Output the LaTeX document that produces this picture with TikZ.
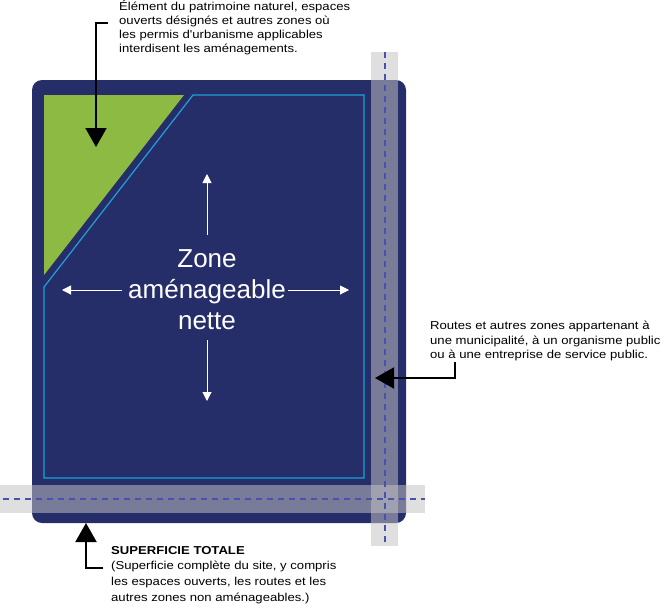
\documentclass[tikz,border=0pt]{standalone}
\usepackage{fontspec}
\setmainfont{Liberation Sans}
\newfontfamily\notefont[FakeStretch=1.14]{Liberation Sans}
\usetikzlibrary{arrows.meta}
\definecolor{navy}{HTML}{262E69}
\definecolor{leaf}{HTML}{8DBA43}
\definecolor{cyanline}{HTML}{1DA1D8}
\definecolor{bandgray}{HTML}{C2C2C2}
\definecolor{dashblue}{HTML}{4A50B0}
\tikzset{
  leader/.style={line width=2pt,-{Triangle[width=21pt,length=19pt]}},
  whitearrow/.style={white,line width=1pt,-{Triangle[width=9pt,length=9pt]}},
  band/.style={fill=bandgray,fill opacity=0.53,draw=none},
  roadline/.style={dashblue,line width=1.3pt,dash pattern=on 6pt off 5pt},
  note/.style={anchor=north west,align=left,inner sep=0pt,font=\notefont\fontsize{11.5}{14.2}\selectfont},
}
\begin{document}
\begin{tikzpicture}[x=1pt,y=-1pt]
\useasboundingbox (0,0) rectangle (667,611);
% site
\fill[navy,rounded corners=10pt] (32,80) rectangle (406,523);
\fill[leaf] (44,95) -- (184,95) -- (44,275) -- cycle;
\draw[cyanline,line width=1.2pt] (193,95) -- (364,95) -- (364,478) -- (44,478) -- (44,287) -- cycle;
% centre label and arrows
\node[white,align=center,inner sep=0pt,font=\fontsize{26}{31}\selectfont] (zone) at (207,290) {Zone\\am\'enageable\\nette};
\coordinate (up) at (207,174);
\coordinate (down) at (207,401);
\coordinate (left) at (62,290);
\coordinate (right) at (349,290);
\draw[whitearrow] (207,235) -- (up);
\draw[whitearrow] (207,340) -- (down);
\draw[whitearrow] (122,290) -- (left);
\draw[whitearrow] (288,290) -- (right);
% road bands
\fill[band] (371,52) rectangle (398,546);
\fill[band] (0,485) rectangle (425,513);
\draw[roadline] (385,52) -- (385,546);
\draw[roadline] (3,499) -- (425,499);
% callout 1
\node[note] (t1) at (119,0) {\'El\'ement du patrimoine naturel, espaces\\ouverts d\'esign\'es et autres zones o\`u\\les permis d'urbanisme applicables\\interdisent les am\'enagements.};
\coordinate (c1a) at (108,23);
\coordinate (c1b) at (96,23);
\coordinate (c1tip) at (96,147);
\draw[leader] (c1a) -- (c1b) -- (c1tip);
% callout 2
\node[note,font=\notefont\fontsize{11.5}{14.6}\selectfont] (t2) at (430,321) {Routes et autres zones appartenant \`a\\une municipalit\'e, \`a un organisme public\\ou \`a une entreprise de service public.};
\coordinate (c2a) at (455,362);
\coordinate (c2b) at (455,378);
\coordinate (c2tip) at (375,378);
\draw[leader] (c2a) -- (c2b) -- (c2tip);
% callout 3
\node[note,font=\notefont\fontsize{11.5}{15.6}\selectfont] (t3) at (111,546) {\textbf{SUPERFICIE TOTALE}\\(Superficie compl\`ete du site, y compris\\les espaces ouverts, les routes et les\\autres zones non am\'enageables.)};
\coordinate (c3a) at (103,568);
\coordinate (c3b) at (86,568);
\coordinate (c3tip) at (86,523);
\draw[leader] (c3a) -- (c3b) -- (c3tip);
\end{tikzpicture}
\end{document}
